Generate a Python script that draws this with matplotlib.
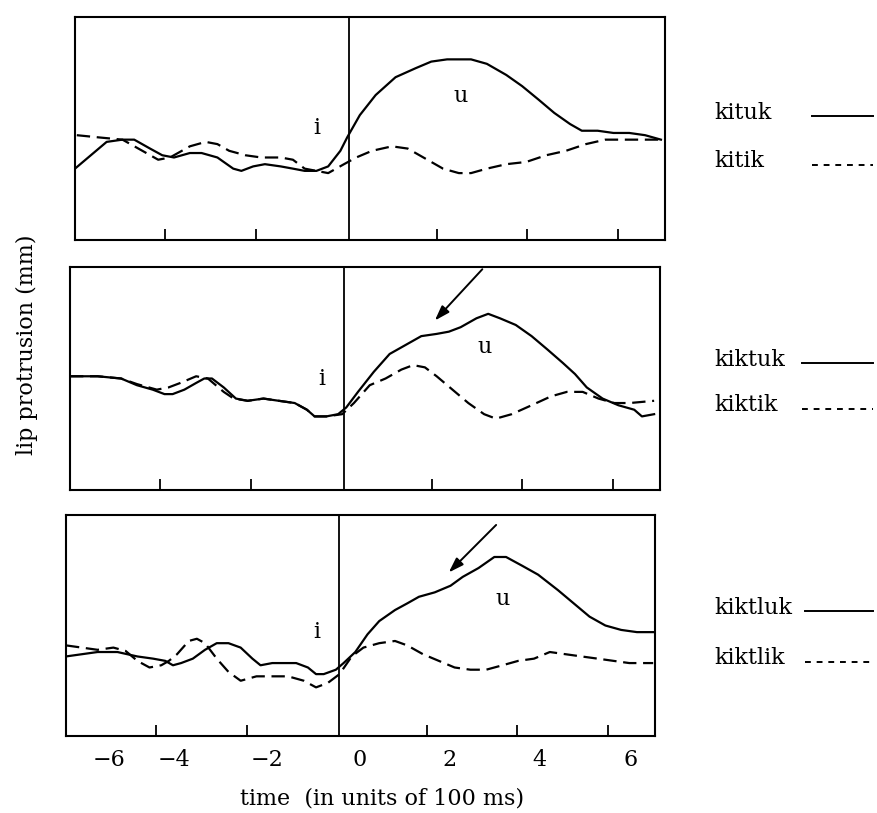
import matplotlib
matplotlib.use('Agg')
import matplotlib.pyplot as plt
from matplotlib.lines import Line2D

plt.rcParams['font.family'] = ['DejaVu Serif']

# time axis is in units of 100 ms; lip protrusion in arbitrary panel units (0-10)

# --- panel 1: kituk / kitik ---
kituk_t = [-6.50, -6.15, -5.80, -5.45, -5.19, -4.84, -4.57, -4.31, -3.96, -3.70,
           -3.35, -3.00, -2.82, -2.56, -2.30, -1.95, -1.68, -1.42, -1.16, -0.90,
           -0.63, -0.48, -0.20, 0.15, 0.59, 1.03, 1.38, 1.73, 2.26, 2.61,
           3.04, 3.39, 3.75, 4.10, 4.45, 4.71, 5.06, 5.41, 5.76, 6.11, 6.46]
kituk_y = [3.2, 3.8, 4.4, 4.5, 4.5, 4.1, 3.8, 3.7, 3.9, 3.9,
           3.7, 3.2, 3.1, 3.3, 3.4, 3.3, 3.2, 3.1, 3.1, 3.3,
           4.0, 4.6, 5.6, 6.5, 7.3, 7.7, 8.0, 8.1, 8.1, 7.9,
           7.4, 6.9, 6.3, 5.7, 5.2, 4.9, 4.9, 4.8, 4.8, 4.7, 4.5]
kitik_t = [-6.46, -5.97, -5.45, -5.01, -4.66, -4.40, -3.96, -3.61, -3.35, -3.09,
           -2.73, -2.38, -1.95, -1.68, -1.42, -1.16, -0.90, -0.55, -0.28, 0.07,
           0.51, 0.86, 1.12, 1.38, 1.64, 1.99, 2.26, 2.61, 3.04, 3.48,
           3.92, 4.36, 4.80, 5.23, 5.58, 6.02, 6.46]
kitik_y = [4.7, 4.6, 4.5, 4.0, 3.6, 3.7, 4.2, 4.4, 4.3, 4.0,
           3.8, 3.7, 3.7, 3.6, 3.2, 3.1, 3.0, 3.4, 3.7, 4.0,
           4.2, 4.1, 3.8, 3.5, 3.2, 3.0, 3.0, 3.2, 3.4, 3.5,
           3.8, 4.0, 4.3, 4.5, 4.5, 4.5, 4.5]

# --- panel 2: kiktuk / kiktik ---
kiktuk_t = [-6.50, -5.89, -5.37, -5.02, -4.67, -4.41, -4.23, -3.97, -3.71, -3.53,
            -3.36, -3.10, -2.83, -2.57, -2.22, -1.88, -1.53, -1.26, -1.09, -0.83,
            -0.57, -0.39, -0.13, 0.22, 0.57, 0.92, 1.27, 1.61, 1.88, 2.14,
            2.49, 2.75, 3.01, 3.36, 3.71, 4.06, 4.40, 4.67, 4.93, 5.28,
            5.63, 5.98, 6.15, 6.42]
kiktuk_y = [5.1, 5.1, 5.0, 4.7, 4.5, 4.3, 4.3, 4.5, 4.8, 5.0,
            5.0, 4.6, 4.1, 4.0, 4.1, 4.0, 3.9, 3.6, 3.3, 3.3,
            3.4, 3.7, 4.4, 5.3, 6.1, 6.5, 6.9, 7.0, 7.1, 7.3,
            7.7, 7.9, 7.7, 7.4, 6.9, 6.3, 5.7, 5.2, 4.6, 4.1,
            3.8, 3.6, 3.3, 3.4]
kiktik_t = [-6.50, -5.89, -5.37, -5.02, -4.58, -4.32, -4.06, -3.71, -3.45, -3.10,
            -2.88, -2.57, -2.22, -1.88, -1.53, -1.26, -1.09, -0.83, -0.48, -0.22,
            0.13, 0.48, 0.83, 1.09, 1.35, 1.61, 1.96, 2.31, 2.66, 2.92,
            3.27, 3.71, 4.14, 4.49, 4.84, 5.19, 5.54, 5.88, 6.42]
kiktik_y = [5.1, 5.1, 5.0, 4.75, 4.5, 4.6, 4.8, 5.1, 5.0, 4.4,
            4.1, 4.0, 4.1, 4.0, 3.9, 3.6, 3.3, 3.3, 3.4, 3.9,
            4.7, 5.0, 5.4, 5.6, 5.5, 5.1, 4.5, 3.9, 3.4, 3.2,
            3.4, 3.8, 4.2, 4.4, 4.4, 4.1, 3.9, 3.9, 4.0]

# --- panel 3: kiktluk / kiktlik ---
kiktluk_t = [-6.50, -6.15, -5.80, -5.36, -4.92, -4.57, -4.30, -4.13, -3.95, -3.69,
             -3.42, -3.16, -2.90, -2.63, -2.37, -2.19, -1.93, -1.67, -1.40, -1.14,
             -0.96, -0.79, -0.52, -0.35, -0.09, 0.18, 0.44, 0.79, 1.06, 1.32,
             1.67, 2.02, 2.29, 2.64, 2.99, 3.25, 3.61, 3.96, 4.40, 4.75,
             5.10, 5.45, 5.80, 6.15, 6.51]
kiktluk_y = [3.6, 3.7, 3.8, 3.8, 3.6, 3.5, 3.4, 3.2, 3.3, 3.5,
             3.9, 4.2, 4.2, 4.0, 3.5, 3.2, 3.3, 3.3, 3.3, 3.1,
             2.8, 2.8, 3.0, 3.3, 3.8, 4.6, 5.2, 5.7, 6.0, 6.3,
             6.5, 6.8, 7.2, 7.6, 8.1, 8.1, 7.7, 7.3, 6.6, 6.0,
             5.4, 5.0, 4.8, 4.7, 4.7]
kiktlik_t = [-6.50, -6.15, -5.80, -5.45, -5.18, -4.92, -4.65, -4.39, -4.22, -4.04,
             -3.78, -3.60, -3.42, -3.16, -2.90, -2.63, -2.28, -1.93, -1.58, -1.23,
             -0.96, -0.70, -0.44, -0.17, 0.09, 0.44, 0.79, 1.06, 1.41, 1.76,
             2.11, 2.46, 2.81, 3.17, 3.52, 3.87, 4.22, 4.57, 4.92, 5.28,
             5.63, 5.98, 6.51]
kiktlik_y = [4.1, 4.0, 3.9, 4.0, 3.85, 3.4, 3.1, 3.2, 3.4, 3.7,
             4.3, 4.4, 4.2, 3.5, 2.9, 2.5, 2.7, 2.7, 2.7, 2.5,
             2.2, 2.4, 2.8, 3.6, 4.0, 4.2, 4.3, 4.1, 3.7, 3.4,
             3.1, 3.0, 3.0, 3.2, 3.4, 3.5, 3.8, 3.7, 3.6, 3.5,
             3.4, 3.3, 3.3]

# vowel labels (x, y) and arrows (tail -> head) per panel
i_pos = [(-1.16, 5.0), (-0.93, 5.0), (-0.95, 4.7)]
u_pos = [(2.04, 6.45), (2.66, 6.4), (3.17, 6.2)]
arrows = [None, ((2.62, 9.9), (1.57, 7.6)), ((3.03, 9.55), (1.98, 7.4))]

words_solid = ['kituk', 'kiktuk', 'kiktluk']
words_dash = ['kitik', 'kiktik', 'kiktlik']

tick_pos = [-4.5, -2.5, 1.5, 3.5, 5.5]
label_pos = [-5.55, -4.1, -2.05, 0, 2, 4, 6]
label_txt = ['\u22126', '\u22124', '\u22122', '0', '2', '4', '6']
vowel_onset = -0.45

solid = [(kituk_t, kituk_y), (kiktuk_t, kiktuk_y), (kiktluk_t, kiktluk_y)]
dashed = [(kitik_t, kitik_y), (kiktik_t, kiktik_y), (kiktlik_t, kiktlik_y)]

W, H = 877, 813
fig = plt.figure(figsize=(W / 100, H / 100), dpi=100)

# panel boxes in pixels: left, top, right, bottom
boxes = [(75, 17, 665, 240), (70, 267, 660, 490), (66, 515, 655, 736)]
legend_rows = [(113, 161, 812), (360, 405, 802), (608, 658, 805)]
dash = (0, (6, 3))

for k in range(3):
    l, t, r, b = boxes[k]
    ax = fig.add_axes([l / W, 1 - b / H, (r - l) / W, (b - t) / H])
    ax.plot(*solid[k], color='black', lw=1.6)
    ax.plot(*dashed[k], color='black', lw=1.6, linestyle=dash)
    ax.axvline(vowel_onset, color='black', lw=1.3)
    ax.set_xlim(-6.5, 6.55)
    ax.set_ylim(0, 10)
    ax.set_yticks([])
    ax.set_xticks(tick_pos, minor=True)
    ax.tick_params(axis='x', which='minor', direction='in', length=8, width=1.3)
    ax.set_xticks(label_pos)
    if k == 2:
        ax.set_xticklabels(label_txt, fontsize=16)
    else:
        ax.set_xticklabels([])
    ax.tick_params(axis='x', which='major', length=0, pad=9)
    for s in ax.spines.values():
        s.set_linewidth(1.5)

    ax.text(*i_pos[k], 'i', ha='center', va='center', fontsize=16)
    ax.text(*u_pos[k], 'u', ha='center', va='center', fontsize=16)
    if arrows[k] is not None:
        tail, head = arrows[k]
        ax.annotate('', xy=head, xytext=tail,
                    arrowprops=dict(arrowstyle='-|>,head_length=0.9,head_width=0.3',
                                    color='black', lw=1.4, shrinkA=0, shrinkB=0))

    # legend to the right of each panel
    y1, y2, lx = legend_rows[k]
    fig.text(714 / W, 1 - y1 / H, words_solid[k], va='center', fontsize=16)
    fig.text(714 / W, 1 - y2 / H, words_dash[k], va='center', fontsize=16)
    fig.add_artist(Line2D([lx / W, 873 / W], [1 - (y1 + 3) / H] * 2,
                          color='black', lw=1.4))
    fig.add_artist(Line2D([lx / W, 873 / W], [1 - (y2 + 4) / H] * 2,
                          color='black', lw=1.4, linestyle=(0, (3, 3))))

fig.text(27 / W, 1 - 345 / H, 'lip protrusion (mm)', rotation=90,
         ha='center', va='center', fontsize=16)
fig.text(382 / W, 1 - 798 / H, 'time  (in units of 100 ms)',
         ha='center', va='center', fontsize=16)

fig.savefig('out.png', dpi=100)
